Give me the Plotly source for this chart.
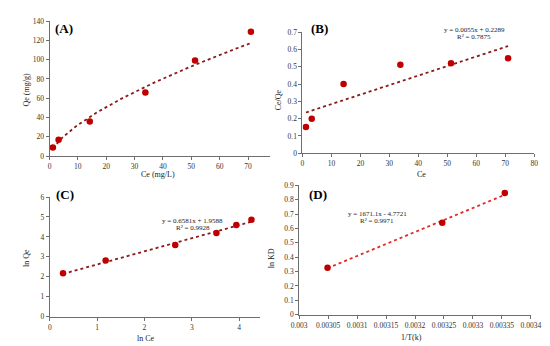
import numpy as np
import plotly.graph_objects as go

W, H = 550, 346

# Panel A: Freundlich raw data
ce_a = [1.2, 3.2, 14.2, 33.8, 51.3, 71.0]
qe_a = [9, 17, 36, 66, 99, 129]
# Panel B
ce_b = [1.2, 3.2, 14.2, 33.8, 51.3, 71.0]
ceqe_b = [0.152, 0.199, 0.400, 0.512, 0.520, 0.549]
# Panel C
lnce_c = [0.28, 1.18, 2.65, 3.52, 3.94, 4.26]
lnqe_c = [2.17, 2.81, 3.59, 4.20, 4.60, 4.86]
# Panel D
invT_d = [0.003049, 0.003247, 0.003355]
lnkd_d = [0.327, 0.640, 0.846]

# fitted trend-line coefficients (as printed on the chart)
b_slope, b_int = 0.0055, 0.2289
c_slope, c_int = 0.6581, 1.9588
d_slope, d_int = 1671.1, -4.7721

FONT = "Liberation Serif"
PT_COLOR = "#C00000"
TL_DARK = "#8B1A1A"
TL_RED = "#E02A2A"

def px_x(p):
    return p / W

def px_y(p):
    return 1 - p / H

fig = go.Figure()

# Trendlines
xa = np.linspace(ce_a[0], ce_a[-1], 80)
fig.add_trace(go.Scatter(x=xa, y=np.exp(c_int) * xa ** c_slope, mode="lines",
                         line=dict(color=TL_DARK, width=1.8, dash="dot"),
                         xaxis="x", yaxis="y", showlegend=False))
xb = np.array([ce_b[0], ce_b[-1]])
fig.add_trace(go.Scatter(x=xb, y=b_slope * xb + b_int, mode="lines",
                         line=dict(color=TL_DARK, width=1.8, dash="dot"),
                         xaxis="x2", yaxis="y2", showlegend=False))
xc = np.array([lnce_c[0], lnce_c[-1]])
fig.add_trace(go.Scatter(x=xc, y=c_slope * xc + c_int, mode="lines",
                         line=dict(color=TL_DARK, width=1.8, dash="dot"),
                         xaxis="x3", yaxis="y3", showlegend=False))
xd = np.array([invT_d[0], invT_d[-1]])
fig.add_trace(go.Scatter(x=xd, y=d_slope * xd + d_int, mode="lines",
                         line=dict(color=TL_RED, width=1.8, dash="dot"),
                         xaxis="x4", yaxis="y4", showlegend=False))

# Points
mk = dict(color=PT_COLOR, size=6.5)
fig.add_trace(go.Scatter(x=ce_a, y=qe_a, mode="markers", marker=mk, xaxis="x", yaxis="y", showlegend=False))
fig.add_trace(go.Scatter(x=ce_b, y=ceqe_b, mode="markers", marker=mk, xaxis="x2", yaxis="y2", showlegend=False))
fig.add_trace(go.Scatter(x=lnce_c, y=lnqe_c, mode="markers", marker=mk, xaxis="x3", yaxis="y3", showlegend=False))
fig.add_trace(go.Scatter(x=invT_d, y=lnkd_d, mode="markers", marker=mk, xaxis="x4", yaxis="y4", showlegend=False))

AX = dict(showgrid=False, zeroline=False, showline=True, linecolor="#6e6e6e", linewidth=1,
          ticks="outside", ticklen=3, tickcolor="#6e6e6e",
          tickfont=dict(family=FONT, size=7.5, color="#333333"))

layout = dict(
    width=W, height=H, margin=dict(l=0, r=0, t=0, b=0),
    paper_bgcolor="white", plot_bgcolor="white",
    font=dict(family=FONT, size=8, color="#333333"),
    # A
    xaxis=dict(AX, domain=[px_x(34.7), px_x(263.3)], range=[0, 77.8], dtick=10, tick0=0, anchor="y"),
    yaxis=dict(AX, domain=[px_y(148), px_y(9.3)], range=[0, 140], dtick=20, anchor="x"),
    # B
    xaxis2=dict(AX, domain=[px_x(296.7), px_x(536.7)], range=[0, 80], dtick=10, anchor="y2"),
    yaxis2=dict(AX, domain=[px_y(145), px_y(20.7)], range=[0, 0.7], dtick=0.1, anchor="x2"),
    # C
    xaxis3=dict(AX, domain=[px_x(35), px_x(252.7)], range=[0, 4.44], dtick=1, anchor="y3"),
    yaxis3=dict(AX, domain=[px_y(312.7), px_y(190)], range=[0, 6], dtick=1, anchor="x3"),
    # D
    xaxis4=dict(AX, domain=[px_x(293.3), px_x(533.3)], range=[0.003, 0.0034], dtick=0.00005,
                tick0=0.003, tickformat="~g", anchor="y4"),
    yaxis4=dict(AX, domain=[px_y(310.7), px_y(178)], range=[0, 0.9], dtick=0.1, anchor="x4"),
)
fig.update_layout(**layout)

def ann(text, x, y, size=8, bold=False, angle=0):
    t = f"<b>{text}</b>" if bold else text
    fig.add_annotation(text=t, x=px_x(x), y=px_y(y), xref="paper", yref="paper",
                       showarrow=False, textangle=angle, xanchor="center", yanchor="middle",
                       font=dict(family=FONT, size=size, color="#222222" if not bold else "#000000"))

# axis titles
ann("Ce (mg/L)", 147, 166.5, 8)
ann("Qe (mg/g)", 11, 80, 8, angle=-90)
ann("Ce", 420, 166.5, 8)
ann("Ce/Qe", 272, 90, 8, angle=-90)
ann("ln Ce", 135, 335, 8)
ann("ln Qe", 11, 253, 8, angle=-90)
ann("1/T(k)", 410, 334, 8)
ann("ln KD", 265, 253, 8, angle=-90)

# panel labels
ann("(A)", 50, 16.7, 13, bold=True)
ann("(B)", 314, 16.5, 13, bold=True)
ann("(C)", 51, 187, 13, bold=True)
ann("(D)", 313, 187, 13, bold=True)

# equations
ann(f"y = {b_slope}x + {b_int}", 475, 18.5, 7)
ann("R² = 0.7875", 474, 25.5, 7)
ann(f"y = {c_slope}x + {c_int}", 183, 214.7, 7)
ann("R² = 0.9928", 183, 221.7, 7)
ann("y = 1671.1x - 4.7721", 374, 207, 7)
ann("R² = 0.9971", 374, 214.3, 7)

fig.write_html("out.html")
